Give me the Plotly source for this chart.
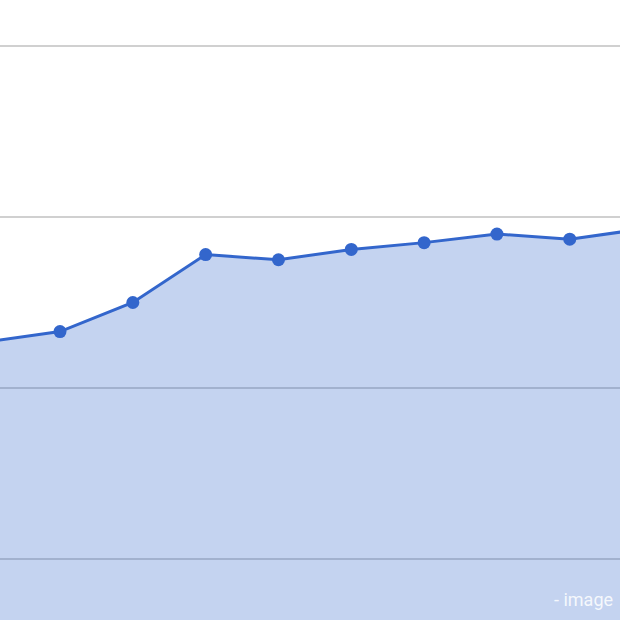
import plotly.graph_objects as go

# values (first and last points sit just outside the crop)
periods = list(range(10))
values = [227, 233, 250, 278, 275, 281, 285, 290, 287, 293]
grid_step = 100

line_col = "#3366cc"

fig = go.Figure()
fig.add_trace(go.Scatter(
    x=periods,
    y=values,
    mode="lines+markers",
    fill="tozeroy",
    fillcolor="rgba(51,102,204,0.29)",
    line=dict(color=line_col, width=3),
    marker=dict(color=line_col, size=13),
    hoverinfo="skip",
))

fig.update_layout(
    width=620,
    height=620,
    margin=dict(l=0, r=0, t=0, b=0),
    paper_bgcolor="white",
    plot_bgcolor="white",
    showlegend=False,
    xaxis=dict(range=[0.176, 8.69], showgrid=False, zeroline=False,
               showticklabels=False, showline=False),
    yaxis=dict(range=[64.3, 426.9], dtick=grid_step, tick0=0,
               showgrid=True, gridcolor="#d0d0d0", gridwidth=2,
               zeroline=False, showticklabels=False, showline=False),
    annotations=[dict(
        text="- image", x=1, y=0, xref="paper", yref="paper",
        xanchor="right", yanchor="bottom", xshift=-5, yshift=8,
        showarrow=False,
        font=dict(family="Roboto", size=18, color="rgba(255,255,255,0.85)"),
    )],
)

# drop the page's default body margin so the chart sits at the corner
fig.write_html("out.html", config={"displayModeBar": False},
               post_script="document.body.style.margin='0';")
